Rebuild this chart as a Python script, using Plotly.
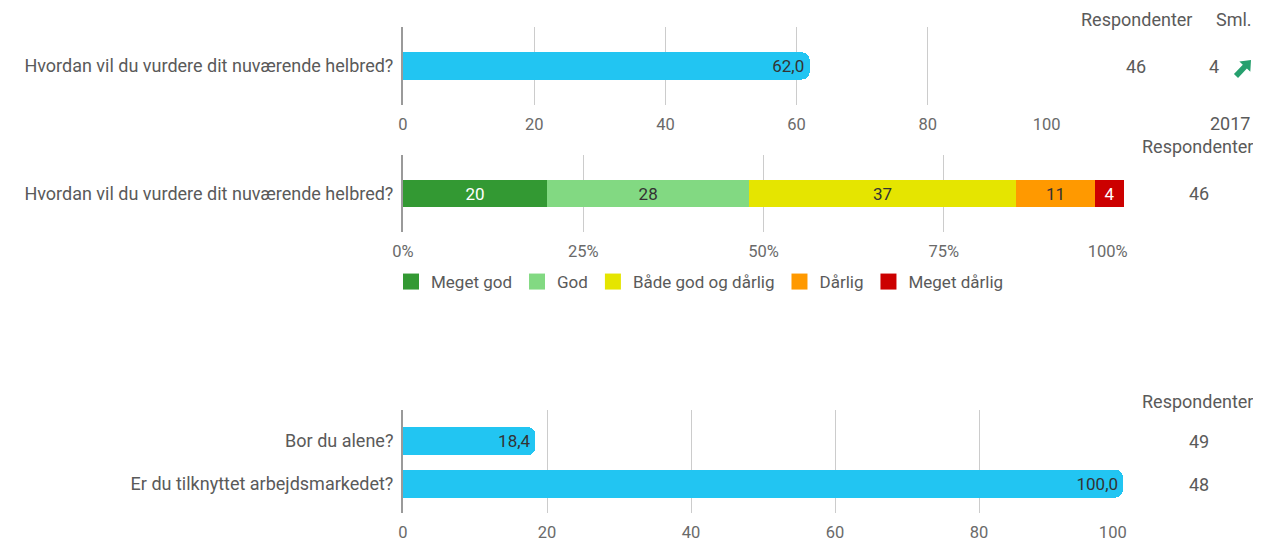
import math
import plotly.graph_objects as go

# page body has an 8px margin; figure fills the rest of the 1261x544 window
OFF = 8
W, H = 1261 - OFF, 544 - OFF
def px(x): return (x - OFF) / W
def py(y): return 1 - (y - OFF) / H

# ---- data ----
q1_label = ["Hvordan vil du vurdere dit nuværende helbred?"]
q1_value = [62.0]
q1_resp = 46
q1_sml = 4
q1_ticks = [0, 20, 40, 60, 80, 100]

q2_label = ["Hvordan vil du vurdere dit nuværende helbred?"]
q2_cats = ["Meget god", "God", "Både god og dårlig", "Dårlig", "Meget dårlig"]
q2_values = [20, 28, 37, 11, 4]
q2_colors = ["#339933", "#82d982", "#e5e500", "#ff9900", "#cc0000"]
q2_textcolors = ["#ffffff", "#333333", "#333333", "#333333", "#ffffff"]
q2_resp = 46
q2_ticks = [0, 25, 50, 75, 100]

q3_labels = ["Bor du alene?", "Er du tilknyttet arbejdsmarkedet?"]
q3_values = [18.4, 100.0]
q3_resp = [49, 48]
q3_ticks = [0, 20, 40, 60, 80, 100]

BLUE = "#22c5f2"
FONT = "Roboto"
TXT = "#333333"
LBL = "#5a5a5a"
TICK = "#6a6a6a"
GRID = "#cccccc"
NB = "\u00a0"

fig = go.Figure()

# chart 1
fig.add_trace(go.Bar(
    x=q1_value, y=q1_label, orientation="h", marker=dict(color=BLUE, line=dict(width=0)),
    width=0.35, texttemplate="%{x:.1f}", textposition="inside", insidetextanchor="end",
    textfont=dict(color=TXT, size=17, family=FONT), showlegend=False,
    xaxis="x", yaxis="y", hoverinfo="skip"))

# chart 2 stacked
for cat, val, col, tc in zip(q2_cats, q2_values, q2_colors, q2_textcolors):
    fig.add_trace(go.Bar(
        x=[val], y=q2_label, orientation="h", name=cat, showlegend=False,
        marker=dict(color=col, line=dict(width=0), cornerradius=0), width=0.36,
        text=[str(val)], textposition="inside", insidetextanchor="middle",
        textfont=dict(color=tc, size=17, family=FONT),
        xaxis="x2", yaxis="y2", hoverinfo="skip"))
# legend entries for chart 2 (square swatches)
for cat, col in zip(q2_cats, q2_colors):
    fig.add_trace(go.Scatter(
        x=[None], y=[None], mode="markers", name=cat,
        marker=dict(symbol="square", size=16, color=col),
        xaxis="x2", yaxis="y2", hoverinfo="skip", showlegend=True))

# chart 3
fig.add_trace(go.Bar(
    x=q3_values, y=q3_labels, orientation="h", marker=dict(color=BLUE, line=dict(width=0)),
    width=0.66, texttemplate="%{x:.1f}", textposition="inside", insidetextanchor="end",
    textfont=dict(color=TXT, size=17, family=FONT), showlegend=False,
    xaxis="x3", yaxis="y3", hoverinfo="skip"))

xcommon = dict(showgrid=True, gridcolor=GRID, gridwidth=1, zeroline=False, showline=False,
               ticks="", tickfont=dict(color=TICK, size=16.5, family=FONT),
               ticklabelstandoff=7, fixedrange=True, tickmode="array", automargin=False)
ycommon = dict(type="category", showgrid=False, zeroline=False, showline=True,
               linecolor="#9a9a9a", linewidth=2, ticks="",
               tickfont=dict(color=LBL, size=18, family=FONT), ticklabelstandoff=4,
               fixedrange=True, automargin=False)

def ticktext(vals, suffix="", pad=0):
    out = [f"{v}{suffix}" for v in vals]
    out[-1] = out[-1] + NB * pad
    return out

fig.update_layout(
    width=W, height=H, margin=dict(l=0, r=0, t=0, b=0, pad=0, autoexpand=False),
    paper_bgcolor="white", plot_bgcolor="white",
    barmode="stack", barcornerradius=8, separators=",.",
    font=dict(family=FONT, color=TXT, size=16),
    xaxis=dict(domain=[px(403), px(1059)], range=[0, 100], tickvals=q1_ticks,
               ticktext=ticktext(q1_ticks, pad=6), anchor="y", **xcommon),
    yaxis=dict(domain=[py(105), py(27)], range=[-0.5, 0.5], anchor="x", **ycommon),
    xaxis2=dict(domain=[px(403), px(1124)], range=[0, 100], tickvals=q2_ticks,
                ticktext=ticktext(q2_ticks, suffix="%", pad=8), anchor="y2", **xcommon),
    yaxis2=dict(domain=[py(232), py(155)], range=[-0.5, 0.5], anchor="x2", **ycommon),
    xaxis3=dict(domain=[px(403), px(1123)], range=[0, 100], tickvals=q3_ticks,
                ticktext=ticktext(q3_ticks, pad=5), anchor="y3", **xcommon),
    yaxis3=dict(domain=[py(513), py(410)], range=[1.69, -0.73], categoryorder="array",
                categoryarray=q3_labels, anchor="x3", **ycommon),
    legend=dict(orientation="h", x=px(391), y=py(282), xanchor="left", yanchor="middle",
                font=dict(size=17, color=LBL, family=FONT), traceorder="normal",
                itemclick=False, itemdoubleclick=False, bgcolor="rgba(0,0,0,0)",
                itemwidth=30, tracegroupgap=0),
)

ann = []
def A(x, y, text, xanchor="center", color=LBL, size=18):
    ann.append(dict(x=px(x), y=py(y), xref="paper", yref="paper", text=text, showarrow=False,
                    xanchor=xanchor, yanchor="middle",
                    font=dict(size=size, color=color, family=FONT)))

A(1136, 19, "Respondenter")
A(1234, 19, "Sml.")
A(1136, 67, str(q1_resp))
A(1221, 67, str(q1_sml), xanchor="right")
A(1252, 124, "2017", xanchor="right")
A(1197, 146, "Respondenter")
A(1199, 194, str(q2_resp))
A(1197, 401, "Respondenter")
A(1199, 441, str(q3_resp[0]))
A(1199, 484, str(q3_resp[1]))
fig.update_layout(annotations=ann)

# green "up" trend arrow icon next to Sml. value (screen pixels -> paper)
tail = (1236.0, 76.0)
tip = (1251.0, 60.0)
dx, dy = tip[0] - tail[0], tip[1] - tail[1]
L = math.hypot(dx, dy)
ux, uy = dx / L, dy / L
nx, ny = -uy, ux
sw, hw, hl = 2.8, 7.5, 9.0
base = (tip[0] - ux * hl, tip[1] - uy * hl)
pts = [
    (tail[0] + nx * sw, tail[1] + ny * sw),
    (base[0] + nx * sw, base[1] + ny * sw),
    (base[0] + nx * hw, base[1] + ny * hw),
    tip,
    (base[0] - nx * hw, base[1] - ny * hw),
    (base[0] - nx * sw, base[1] - ny * sw),
    (tail[0] - nx * sw, tail[1] - ny * sw),
]
path = "M " + " L ".join(f"{px(x):.5f},{py(y):.5f}" for x, y in pts) + " Z"
fig.add_shape(type="path", path=path, xref="paper", yref="paper",
              fillcolor="#26a06e", line=dict(width=0))

fig.write_html("out.html")
